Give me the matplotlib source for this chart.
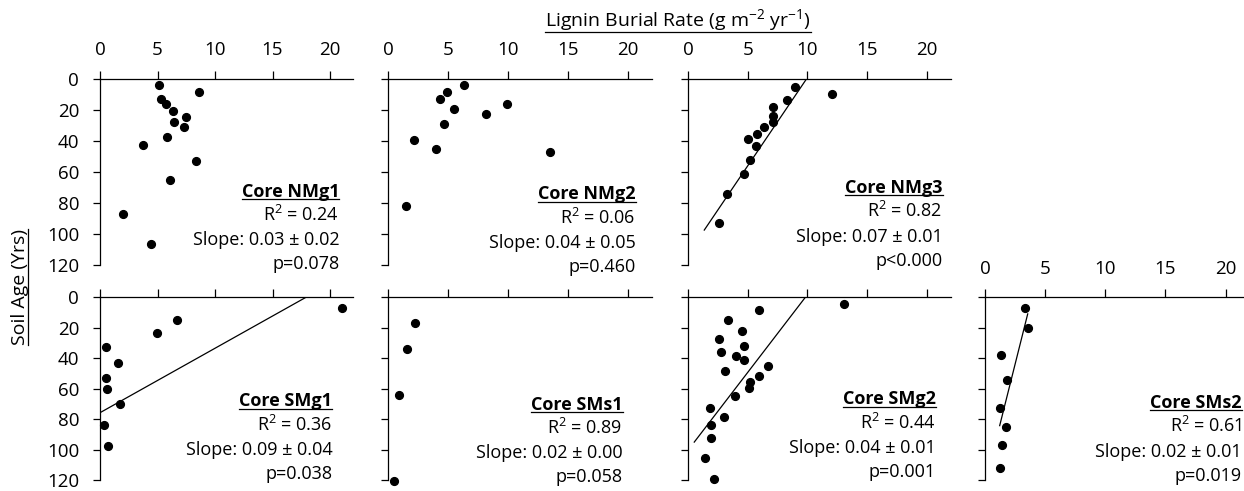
import matplotlib
matplotlib.use('Agg')
import matplotlib.pyplot as plt
from matplotlib.lines import Line2D
from matplotlib.transforms import IdentityTransform

plt.rcParams['font.family'] = ['Open Sans', 'DejaVu Sans']
plt.rcParams['mathtext.fontset'] = 'custom'
plt.rcParams['mathtext.rm'] = 'Open Sans'
plt.rcParams['mathtext.bf'] = 'Open Sans:bold'

# --- data (rate = g m-2 yr-1, age = yrs) ---
nmg1_rate = [5.13, 8.61, 5.30, 5.77, 6.35, 7.45, 6.43, 7.30, 5.86, 3.77, 8.32, 6.09, 2.00, 4.46]
nmg1_age = [4.3, 8.4, 13.1, 16.5, 20.6, 24.7, 27.9, 31.1, 37.4, 42.9, 52.8, 65.0, 87.2, 106.7]

nmg2_rate = [6.30, 4.93, 4.35, 9.89, 5.46, 8.19, 4.68, 2.14, 3.98, 13.54, 1.48]
nmg2_age = [4.3, 8.8, 12.9, 16.5, 19.8, 22.5, 29.0, 39.5, 45.1, 47.0, 81.8]

nmg3_rate = [8.95, 12.02, 8.25, 7.13, 7.10, 7.13, 6.35, 5.76, 5.01, 5.68, 5.17, 4.70, 3.24, 2.54]
nmg3_age = [5.2, 9.7, 13.7, 18.5, 24.0, 27.7, 31.3, 35.4, 39.1, 43.4, 52.4, 61.4, 74.5, 93.0]
nmg3_fit_rate = [9.93, 1.34]
nmg3_fit_age = [0.0, 97.5]

smg1_rate = [21.07, 6.72, 4.93, 0.49, 1.59, 0.49, 0.61, 1.77, 0.35, 0.67]
smg1_age = [6.8, 14.9, 23.2, 32.8, 42.9, 53.2, 60.4, 70.1, 84.1, 97.7]
smg1_fit_rate = [17.91, 0.0]
smg1_fit_age = [0.0, 75.8]

sms1_rate = [2.23, 1.53, 0.86, 0.45]
sms1_age = [16.6, 34.0, 64.4, 120.5]

smg2_rate = [13.03, 5.93, 3.36, 4.47, 2.60, 4.67, 2.71, 4.00, 4.67, 6.71, 3.10,
             5.93, 5.17, 5.12, 3.89, 1.79, 3.02, 1.90, 1.87, 1.37, 2.18]
smg2_age = [4.1, 8.3, 14.6, 22.0, 27.1, 32.1, 35.8, 38.6, 41.5, 45.2, 48.7,
            51.5, 55.4, 59.8, 64.8, 72.7, 78.5, 84.2, 92.7, 105.6, 119.1]
smg2_fit_rate = [9.82, 0.50]
smg2_fit_age = [0.0, 95.1]

sms2_rate = [3.35, 3.57, 1.33, 1.80, 1.22, 1.75, 1.39, 1.27]
sms2_age = [7.0, 20.4, 37.6, 54.3, 72.8, 85.0, 96.7, 112.4]
sms2_fit_rate = [3.55, 1.22]
sms2_fit_age = [10.9, 84.3]

core_names = ['Core NMg1', 'Core NMg2', 'Core NMg3', 'Core SMg1', 'Core SMs1', 'Core SMg2', 'Core SMs2']
r2_values = ['0.24', '0.06', '0.82', '0.36', '0.89', '0.44', '0.61']
slope_values = ['0.03 ± 0.02', '0.04 ± 0.05', '0.07 ± 0.01', '0.09 ± 0.04',
                '0.02 ± 0.00', '0.04 ± 0.01', '0.02 ± 0.01']
p_values = ['p=0.078', 'p=0.460', 'p<0.000', 'p=0.038', 'p=0.058', 'p=0.001', 'p=0.019']

x_ticks = [0, 5, 10, 15, 20]
y_ticks = [0, 20, 40, 60, 80, 100, 120]

W, H = 1244, 491
fig = plt.figure(figsize=(W / 100, H / 100), dpi=100)

# panel boxes in pixels: left, top, right, bottom
col_px = [(100, 353), (388.3, 651.7), (688.3, 950.5), (985, 1249.7)]
row_px = [(78.7, 265), (297.3, 480)]

panels = [
    # row, col, rate, age, fit_rate, fit_age, text x, title baseline y
    (0, 0, nmg1_rate, nmg1_age, None, None, 20.8, 75.9),
    (0, 1, nmg2_rate, nmg2_age, None, None, 20.67, 77.8),
    (0, 2, nmg3_rate, nmg3_age, nmg3_fit_rate, nmg3_fit_age, 21.34, 73.6),
    (1, 0, smg1_rate, smg1_age, smg1_fit_rate, smg1_fit_age, 20.2, 71.7),
    (1, 1, sms1_rate, sms1_age, None, None, 19.57, 73.7),
    (1, 2, smg2_rate, smg2_age, smg2_fit_rate, smg2_fit_age, 20.78, 70.4),
    (1, 3, sms2_rate, sms2_age, sms2_fit_rate, sms2_fit_age, 21.34, 72.7),
]

fs = 13
tick_fs = 13.5
label_fs = 14
underline_me = []

for i, (r, c, rate, age, frate, fage, tx, ty) in enumerate(panels):
    l, rr = col_px[c]
    t, b = row_px[r]
    ax = fig.add_axes([l / W, 1 - b / H, (rr - l) / W, (b - t) / H])
    ax.set_facecolor('none')
    ax.set_xlim(0, 22)
    ax.set_ylim(120, 0)
    ax.spines['right'].set_visible(False)
    ax.spines['bottom'].set_visible(False)
    for s in ['top', 'left']:
        ax.spines[s].set_linewidth(0.9)
    ax.xaxis.tick_top()
    ax.set_xticks(x_ticks)
    ax.set_yticks(y_ticks)
    ax.tick_params(axis='x', direction='out', length=6, width=0.9, pad=8, labelsize=tick_fs)
    ax.tick_params(axis='y', direction='out', length=5, width=0.9, pad=10, labelsize=tick_fs)
    if r == 1 and c < 3:
        ax.tick_params(axis='x', labeltop=False)
    if c > 0:
        ax.tick_params(axis='y', labelleft=False)

    if frate is not None:
        ax.plot(frate, fage, color='black', linewidth=0.9)
    ax.plot(rate, age, 'o', color='black', markersize=5.6, clip_on=False)

    title = ax.text(tx, ty, core_names[i], fontsize=fs, fontweight='bold',
                    ha='right', va='baseline')
    underline_me.append(title)
    lines = ['R$^2$ = ' + r2_values[i], 'Slope: ' + slope_values[i], p_values[i]]
    for k, s in enumerate(lines):
        ax.annotate(s, xy=(tx, ty), xytext=(0, -(k + 1) * 17.5), textcoords='offset points',
                    fontsize=fs, ha='right', va='baseline')

xlab = fig.text(678 / W, 1 - 26.7 / H, 'Lignin Burial Rate (g m$^{-2}$ yr$^{-1}$)',
                fontsize=label_fs, ha='center', va='baseline')
ylab = fig.text(20 / W, 1 - 287 / H, 'Soil Age (Yrs)', fontsize=label_fs, rotation=90,
                ha='center', va='center')

fig.canvas.draw()
renderer = fig.canvas.get_renderer()
for txt in underline_me + [xlab]:
    bb = txt.get_window_extent(renderer)
    fig.add_artist(Line2D([bb.x0, bb.x1], [bb.y0 + 1.5, bb.y0 + 1.5], color='black',
                          linewidth=0.9, transform=IdentityTransform()))
bb = ylab.get_window_extent(renderer)
fig.add_artist(Line2D([bb.x1 - 1.5, bb.x1 - 1.5], [bb.y0, bb.y1], color='black',
                      linewidth=0.9, transform=IdentityTransform()))

fig.savefig('out.png', dpi=100)
plt.close()
